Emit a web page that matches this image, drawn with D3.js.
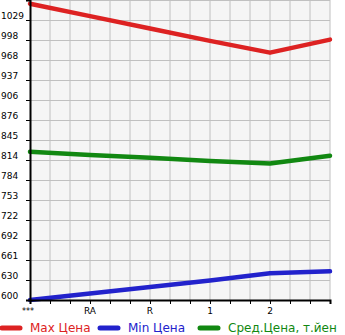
<!DOCTYPE html>
<html>
<head>
<meta charset="utf-8">
<script src="https://cdn.jsdelivr.net/npm/d3@7"></script>
<style>
  body { margin: 0; background: #fff; }
  svg { display: block; font-family: "DejaVu Sans", sans-serif; }
</style>
</head>
<body>
<div id="chart"></div>
<script>
const categories = ['***', 'RA', 'R', '1', '2', ''];
const maxPrice = [1054, 1035, 1016, 997, 979, 999];
const minPrice = [600, 610, 620, 630, 641, 644];
const avgPrice = [827, 822, 818, 813, 809, 821];
const yTickLabels = [600, 630, 661, 692, 722, 753, 784, 814, 845, 876, 906, 937, 968, 998, 1029];
const legendNames = ['Мах Цена', 'Min Цена', 'Сред.Цена, т.йен'];

const width = 345;
const height = 335;
const margin = { top: 0, right: 15, bottom: 35, left: 30 };

const colors = ['#dd2222', '#2222cc', '#118811'];

const svg = d3.select('#chart')
    .append('svg')
    .attr('width', width)
    .attr('height', height);

const x = d3.scalePoint()
    .domain(d3.range(categories.length))
    .range([margin.left, width - margin.right]);

// grid is 20px per y step; tick labels are rounded values
const yStep = (yTickLabels[yTickLabels.length - 1] - yTickLabels[0]) / (yTickLabels.length - 1);
const y = d3.scaleLinear()
    .domain([600, 600 + yStep * 15])
    .range([height - margin.bottom, margin.top]);

// plot background
svg.append('rect')
    .attr('x', margin.left)
    .attr('y', margin.top)
    .attr('width', width - margin.left - margin.right)
    .attr('height', height - margin.top - margin.bottom)
    .attr('fill', '#f5f5f5');

// grid
const gridX = d3.range(margin.left + 20, width - margin.right + 1, 20);
svg.append('g')
    .selectAll('line')
    .data(gridX)
    .enter()
    .append('line')
    .attr('x1', d => d).attr('x2', d => d)
    .attr('y1', margin.top).attr('y2', height - margin.bottom)
    .attr('stroke', '#c0c0c0');

const gridY = d3.range(0, 16).map(i => 600 + i * yStep);
svg.append('g')
    .selectAll('line')
    .data(gridY)
    .enter()
    .append('line')
    .attr('x1', margin.left).attr('x2', width - margin.right)
    .attr('y1', d => Math.round(y(d)) + 0.5).attr('y2', d => Math.round(y(d)) + 0.5)
    .attr('stroke', '#c0c0c0');

// lines
const series = [maxPrice, minPrice, avgPrice];
const lineMaker = d3.line()
    .x((d, i) => x(i))
    .y(d => y(d));

series.forEach((s, k) => {
    svg.append('path')
        .attr('d', lineMaker(s))
        .attr('fill', 'none')
        .attr('stroke', colors[k])
        .attr('stroke-width', 4.5)
        .attr('stroke-linecap', 'round')
        .attr('stroke-linejoin', 'round');
});

// X Axis
const xTickScale = d3.scaleLinear().domain([0, 15]).range([margin.left, width - margin.right]);
const xAxis = svg.append('g')
    .attr('transform', `translate(0, ${height - margin.bottom})`)
    .call(d3.axisBottom(xTickScale).tickValues(d3.range(0, 16)).tickSize(4).tickFormat(''));
xAxis.select('.domain').attr('stroke', '#000').attr('stroke-width', 2);

svg.append('g')
    .selectAll('text')
    .data(categories)
    .enter()
    .append('text')
    .attr('x', (d, i) => x(i) - (i === 0 ? 2 : 0))
    .attr('y', height - margin.bottom + 14)
    .attr('text-anchor', 'middle')
    .attr('font-size', (d, i) => i === 0 ? 8 : 9)
    .attr('fill', '#000')
    .text(d => d);

// Y Axis
const yAxis = svg.append('g')
    .attr('transform', `translate(${margin.left}, 0)`)
    .call(d3.axisLeft(y).tickValues(gridY.slice(0, 15)).tickSize(4).tickFormat(''));
yAxis.select('.domain').attr('stroke', '#000').attr('stroke-width', 2);

svg.append('g')
    .selectAll('text')
    .data(yTickLabels)
    .enter()
    .append('text')
    .attr('x', 1)
    .attr('y', (d, i) => y(gridY[i]) - 1)
    .attr('font-size', 9)
    .attr('fill', '#000')
    .text(d => d);

// legend
const legendX = [0, 98, 198];
const legend = svg.append('g')
    .attr('transform', `translate(0, ${height - 7})`);

legendNames.forEach((name, k) => {
    legend.append('line')
        .attr('x1', legendX[k] + 2).attr('x2', legendX[k] + 20)
        .attr('y1', 0).attr('y2', 0)
        .attr('stroke', colors[k])
        .attr('stroke-width', 5)
        .attr('stroke-linecap', 'round');
    legend.append('text')
        .attr('x', legendX[k] + 30)
        .attr('y', 4)
        .attr('font-size', 12)
        .attr('fill', colors[k])
        .text(name);
});
</script>
</body>
</html>
